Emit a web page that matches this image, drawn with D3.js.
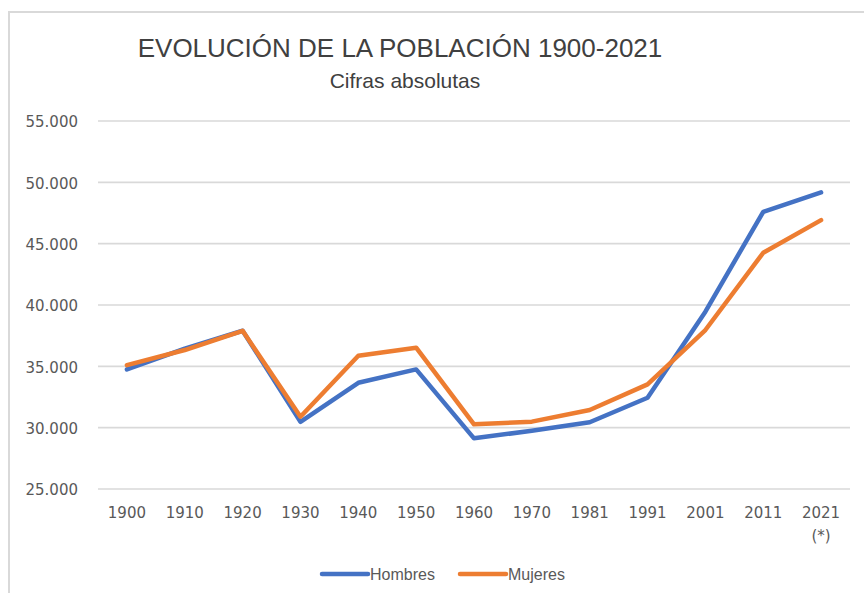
<!DOCTYPE html>
<html>
<head>
<meta charset="utf-8">
<script src="https://cdn.jsdelivr.net/npm/d3@7"></script>
<style>
  body { margin: 0; background: #fff; }
  text { font-family: "DejaVu Sans", sans-serif; }
</style>
</head>
<body>
<div id="chart"></div>
<script>
// data (thousands of people, Spanish number format)
const years = ['1900', '1910', '1920', '1930', '1940', '1950', '1960', '1970', '1981', '1991', '2001', '2011', '2021']
const hombres = [34750, 36450, 37900, 30480, 33660, 34750, 29130, 29750, 30440, 32440, 39450, 47600, 49180]
const mujeres = [35100, 36330, 37900, 30890, 35860, 36520, 30270, 30490, 31440, 33530, 37960, 44260, 46920]
const yTicks = [25000, 30000, 35000, 40000, 45000, 50000, 55000]
const seriesNames = ['Hombres', 'Mujeres']
const noteYear = '2021'   // label gets a "(*)" line under it

const width = 864
const height = 593
const margins = { top: 121, right: 12, bottom: 104, left: 98 }
const color = ['#4472c4', '#ed7d31']

const svg = d3.select('#chart').append('svg')
    .attr('width', width)
    .attr('height', height)

// chart frame (only top and left edges fall inside the picture)
svg.append('rect')
    .attr('x', 9).attr('y', 12)
    .attr('width', width + 20).attr('height', height + 20)
    .attr('fill', 'none')
    .attr('stroke', '#d9d9d9')
    .attr('stroke-width', 2)

svg.append('text')
    .attr('x', 400).attr('y', 57)
    .attr('text-anchor', 'middle')
    .style('font-family', '"Liberation Sans", Arial, sans-serif')
    .style('font-size', '26px')
    .attr('fill', '#404040')
    .text('EVOLUCIÓN DE LA POBLACIÓN 1900-2021')

svg.append('text')
    .attr('x', 405).attr('y', 88)
    .attr('text-anchor', 'middle')
    .style('font-family', '"Liberation Sans", Arial, sans-serif')
    .style('font-size', '21px')
    .attr('fill', '#404040')
    .text('Cifras absolutas')

const xScale = d3.scaleBand()
    .domain(years)
    .range([margins.left, width - margins.right - 2])

const yScale = d3.scaleLinear()
    .domain([25000, 55000])
    .range([height - margins.bottom, margins.top])

const fmt = v => d3.format(',')(v).replace(/,/g, '.')

// grid lines
svg.append('g')
    .attr('class', 'grid-lines')
    .selectAll('line')
    .data(yTicks)
    .join('line')
    .attr('x1', xScale.range()[0])
    .attr('x2', xScale.range()[1])
    .attr('y1', d => yScale(d))
    .attr('y2', d => yScale(d))
    .attr('stroke', '#d9d9d9')
    .attr('stroke-width', 1.6)

// y axis labels
svg.append('g')
    .attr('class', 'y-axis')
    .attr('transform', 'translate(' + margins.left + ',0)')
    .call(d3.axisLeft(yScale).tickValues(yTicks).tickFormat(fmt).tickSize(0).tickPadding(20))
    .call(g => g.select('.domain').remove())
    .call(g => g.selectAll('text')
        .style('font-family', '"DejaVu Sans", sans-serif')
        .style('font-size', '15px')
        .attr('dy', '0.38em')
        .attr('fill', '#595959'))

// x axis labels
svg.append('g')
    .attr('class', 'x-axis')
    .attr('transform', 'translate(0,' + (height - margins.bottom) + ')')
    .call(d3.axisBottom(xScale).tickSize(0).tickPadding(18.5))
    .call(g => g.select('.domain').remove())
    .call(g => g.selectAll('text')
        .style('font-family', '"DejaVu Sans", sans-serif')
        .style('font-size', '15px')
        .attr('fill', '#595959'))
    .call(g => g.selectAll('.tick')
        .filter(d => d === noteYear)
        .select('text')
        .append('tspan')
        .attr('x', 0)
        .attr('dy', '1.5em')
        .text('(*)'))

// lines
const lineFun = d3.line()
    .x((d, i) => xScale(years[i]) + xScale.bandwidth() / 2)
    .y(d => yScale(d))

;[hombres, mujeres].forEach((values, i) => {
    svg.append('path')
        .datum(values)
        .attr('d', lineFun)
        .attr('fill', 'none')
        .attr('stroke', color[i])
        .attr('stroke-width', 4.5)
        .attr('stroke-linejoin', 'round')
        .attr('stroke-linecap', 'round')
})

// legend
const legendX = [322, 460]
const legend = svg.append('g').attr('class', 'legend')
seriesNames.forEach((name, i) => {
    legend.append('line')
        .attr('x1', legendX[i]).attr('x2', legendX[i] + 46)
        .attr('y1', 574).attr('y2', 574)
        .attr('stroke', color[i])
        .attr('stroke-width', 4.5)
        .attr('stroke-linecap', 'round')
    legend.append('text')
        .attr('x', legendX[i] + 48).attr('y', 574)
        .attr('dy', '0.36em')
        .style('font-family', '"Liberation Sans", Arial, sans-serif')
        .style('font-size', '16px')
        .attr('fill', '#595959')
        .text(name)
})
</script>
</body>
</html>
